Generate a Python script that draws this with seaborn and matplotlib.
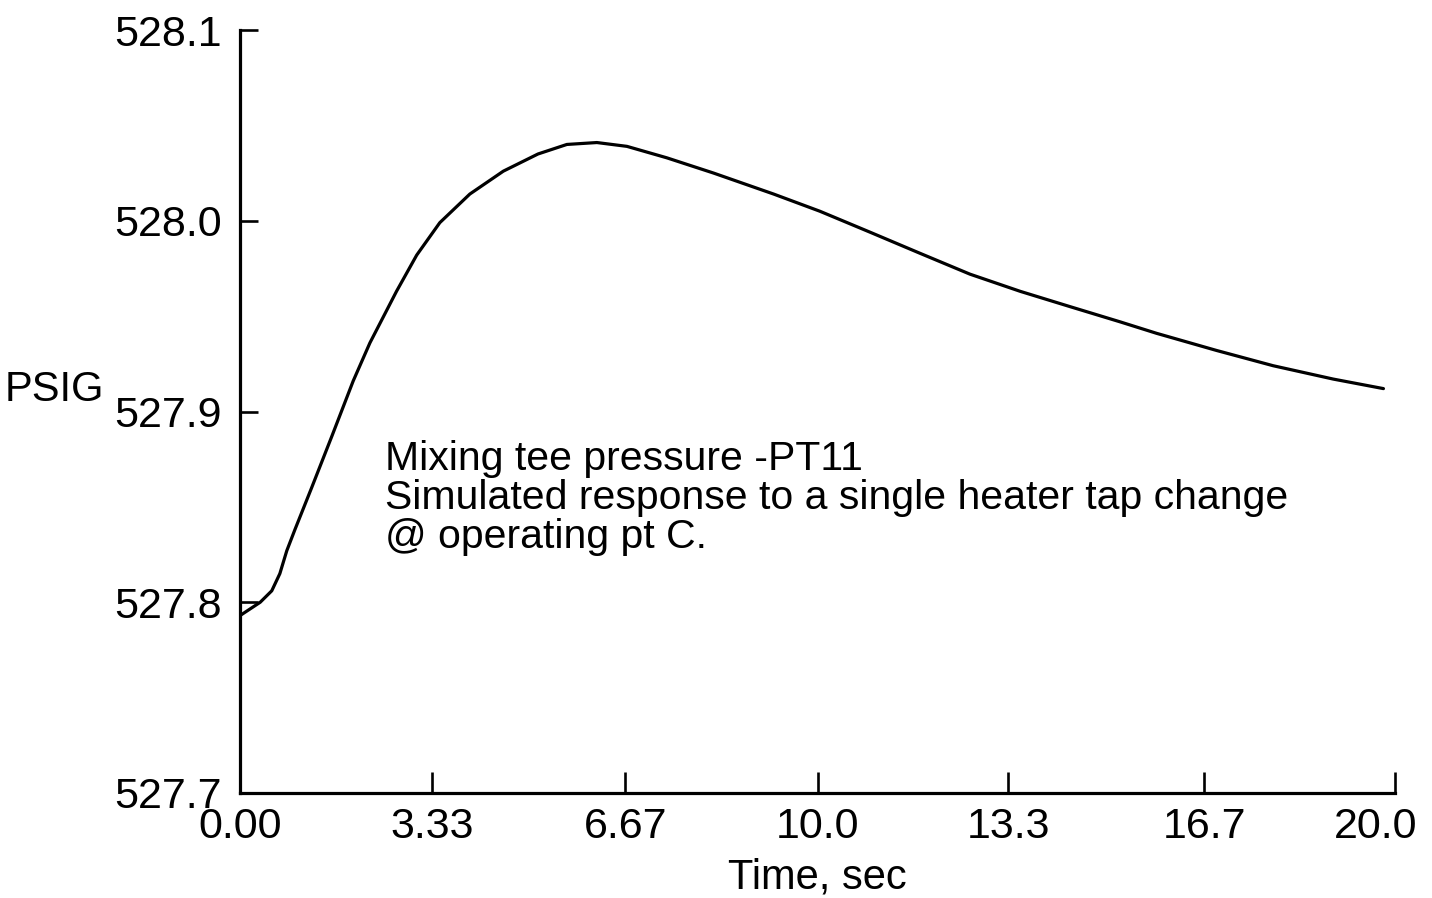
import matplotlib
matplotlib.use("Agg")
import matplotlib.pyplot as plt
import matplotlib.transforms as mtransforms
import seaborn as sns
import pandas as pd

time_s = [0.0, 0.35, 0.55, 0.69, 0.81, 0.95, 1.24, 1.59, 1.96, 2.25, 2.71, 3.06,
          3.46, 3.98, 4.56, 5.16, 5.66, 6.18, 6.70, 7.39, 8.20, 9.24, 10.04, 10.91,
          11.77, 12.64, 13.51, 14.37, 15.24, 15.87, 16.91, 17.89, 18.93, 19.80]
pressure_psig = [527.793, 527.800, 527.806, 527.815, 527.827, 527.838, 527.860, 527.887,
                 527.916, 527.936, 527.963, 527.982, 527.999, 528.014, 528.026, 528.035,
                 528.040, 528.041, 528.039, 528.033, 528.025, 528.014, 528.005, 527.994,
                 527.983, 527.972, 527.963, 527.955, 527.947, 527.941, 527.932, 527.924,
                 527.917, 527.912]
x_ticks = [0.0, 3.33, 6.67, 10.0, 13.3, 16.7, 20.0]
x_labels = ["0.00", "3.33", "6.67", "10.0", "13.3", "16.7", "20.0"]
y_ticks = [527.7, 527.8, 527.9, 528.0, 528.1]
y_labels = ["527.7", "527.8", "527.9", "528.0", "528.1"]
note_lines = ["Mixing tee pressure -PT11",
              "Simulated response to a single heater tap change",
              "@ operating pt C."]

sns.set_theme(style="white")
plt.rcParams["font.family"] = ["Liberation Sans", "DejaVu Sans"]
plt.rcParams["text.color"] = "black"
plt.rcParams["axes.labelcolor"] = "black"

df = pd.DataFrame({"t": time_s, "p": pressure_psig})

fig = plt.figure(figsize=(14.32, 8.98), dpi=100)
ax = fig.add_axes([240/1432, 1 - 793/898, (1395 - 240)/1432, (793 - 30)/898])

sns.lineplot(data=df, x="t", y="p", ax=ax, color="black", linewidth=2.3)

ax.set_xlim(0, 20.0)
ax.set_ylim(527.7, 528.1)
ax.set_xticks(x_ticks)
ax.set_xticklabels(x_labels)
ax.set_yticks(y_ticks)
ax.set_yticklabels(y_labels)
ax.tick_params(axis="both", which="major", bottom=True, left=True, direction="in",
               width=1.9, labelsize=31, colors="black")
ax.tick_params(axis="x", length=15, pad=10)
ax.tick_params(axis="y", length=13, pad=13)
for s in ["top", "right"]:
    ax.spines[s].set_visible(False)
for s in ["left", "bottom"]:
    ax.spines[s].set_linewidth(2.3)
    ax.spines[s].set_color("black")

# last x tick label sits slightly left of its tick, as in the reference
last_lbl = ax.get_xticklabels()[-1]
last_lbl.set_transform(last_lbl.get_transform() +
                       mtransforms.ScaledTranslation(-0.19, 0, fig.dpi_scale_trans))

ax.set_xlabel("Time, sec", fontsize=30, labelpad=8, color="black")
ax.set_ylabel("PSIG", fontsize=30, rotation=0, color="black")
ax.yaxis.set_label_coords(-0.161, 0.5 - (410 - 411.5)/763)

ax.text(2.51, 527.885, "\n".join(note_lines), fontsize=29.5, va="top", ha="left",
        linespacing=1.03, color="black")

fig.savefig("out.png", dpi=100, facecolor="white")
